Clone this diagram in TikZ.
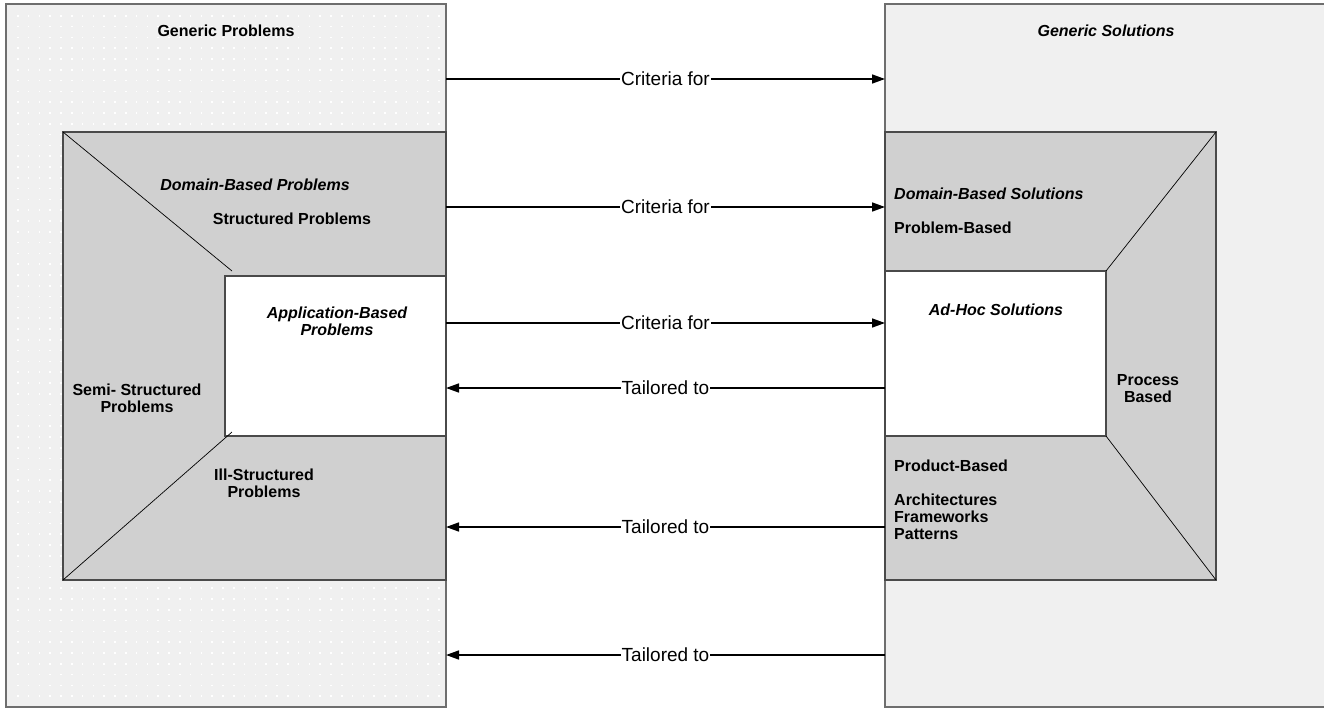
\documentclass[tikz,border=0pt]{standalone}
\usepackage{fontspec}
\setmainfont{Liberation Sans}
\usepackage{tikz}
\usetikzlibrary{arrows.meta,positioning}
\definecolor{paper}{HTML}{F0F0F0}
\definecolor{shade}{HTML}{D0D0D0}
\definecolor{rim}{HTML}{6E6E6E}
\definecolor{edge}{HTML}{4A4A4A}
\tikzset{
  outerbox/.style={rectangle, draw=rim, fill=paper, line width=1.3pt, inner sep=0pt, outer sep=0pt, anchor=north west},
  shadebox/.style={rectangle, draw=edge, fill=shade, line width=1.1pt, inner sep=0pt, outer sep=0pt, anchor=north west},
  corebox/.style={rectangle, draw=edge, fill=white, line width=1.1pt, inner sep=0pt, outer sep=0pt, anchor=north west},
  diag/.style={draw=black, line width=0.7pt},
  lbl/.style={font=\fontsize{16}{17}\selectfont\bfseries, inner sep=0pt, align=center},
  lbli/.style={lbl, font=\fontsize{16}{17}\selectfont\bfseries\itshape},
  flbl/.style={font=\fontsize{19}{21}\selectfont, fill=white, inner sep=1pt},
  crit/.style={-{Triangle[length=13pt,width=9pt]}, draw=black, line width=1.6pt},
  tail/.style={{Triangle[length=13pt,width=9pt]}-, draw=black, line width=1.6pt}
}
\begin{document}
\begin{tikzpicture}[x=1pt,y=-1pt]
  \clip (0,0) rectangle (1324,709);
  % outer frames
  \node[outerbox, minimum width=440pt, minimum height=703pt] (gp) at (6,4) {};
  \node[outerbox, minimum width=460pt, minimum height=703pt] (gs) at (885,4) {};
  \foreach \i in {0,...,39}
    \foreach \j in {0,...,63}
      \fill[white] (17+\i*10.8, 15+\j*10.8) rectangle +(1.6,1.6);
  % problem side
  \node[shadebox, minimum width=383pt, minimum height=448pt] (gpd) at (63,132) {};
  \node[corebox, minimum width=221pt, minimum height=160pt] (gpa) at (225,276) {};
  \draw[diag] (gpd.north west) -- (232,271);
  \draw[diag] (gpd.south west) -- (232,432);
  % solution side
  \node[shadebox, minimum width=331pt, minimum height=448pt] (gsd) at (885,132) {};
  \node[corebox, minimum width=221pt, minimum height=165pt] (gsa) at (885,271) {};
  \draw[diag] (gsa.north east) -- (gsd.north east);
  \draw[diag] (gsa.south east) -- (gsd.south east);
  % texts
  \node[lbl] (tgp) at (226,31) {Generic Problems};
  \node[lbli] (tgs) at (1106,31) {Generic Solutions};
  \node[lbli] (tdp) at (255,185) {Domain-Based Problems};
  \node[lbl] (tsp) at (292,219) {Structured Problems};
  \node[lbli] (tap) at (337,321) {Application-Based\\Problems};
  \node[lbl] (tss) at (137,398) {Semi- Structured\\Problems};
  \node[lbl] (tis) at (264,483) {Ill-Structured\\Problems};
  \node[lbli, anchor=west] (tds) at (894,194) {Domain-Based Solutions};
  \node[lbl, anchor=west] (tpb) at (894,228) {Problem-Based};
  \node[lbli] (tah) at (996,310) {Ad-Hoc Solutions};
  \node[lbl] (tpc) at (1148,389) {Process\\Based};
  \node[lbl, anchor=west] (tpd) at (894,466) {Product-Based};
  \node[lbl, anchor=west, align=left] (taf) at (894,517) {Architectures\\Frameworks\\Patterns};
  % relations
  \draw[crit] (gp.east |- 0,79) -- node[flbl]{Criteria for} (gs.west |- 0,79);
  \draw[crit] (gpd.east |- 0,207) -- node[flbl]{Criteria for} (gsd.west |- 0,207);
  \draw[crit] (gpa.east |- 0,323) -- node[flbl]{Criteria for} (gsa.west |- 0,323);
  \draw[tail] (gpa.east |- 0,388) -- node[flbl]{Tailored to} (gsa.west |- 0,388);
  \draw[tail] (gpd.east |- 0,527) -- node[flbl]{Tailored to} (gsd.west |- 0,527);
  \draw[tail] (gp.east |- 0,655) -- node[flbl]{Tailored to} (gs.west |- 0,655);
\end{tikzpicture}
\end{document}
